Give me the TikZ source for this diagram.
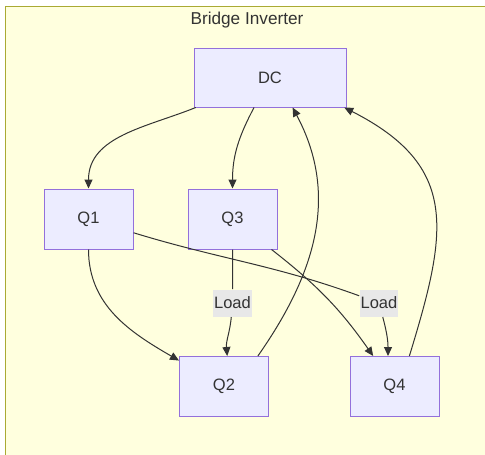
\documentclass[tikz,border=0pt]{standalone}
\usepackage{fontspec}
\setmainfont{Liberation Sans}
\usetikzlibrary{positioning,arrows.meta}
\definecolor{nodefill}{HTML}{ECECFF}
\definecolor{nodeline}{HTML}{9370DB}
\definecolor{clusterfill}{HTML}{FFFFDE}
\definecolor{clusterline}{HTML}{AAAA33}
\definecolor{edgegray}{HTML}{333333}
\definecolor{labelgray}{HTML}{E8E8E8}

\begin{document}
\begin{tikzpicture}[->,>={Triangle[length=9pt,width=8pt]},line width=1pt,color=edgegray,on grid,
  main node/.style={rectangle,draw=nodeline,fill=nodefill,minimum width=89pt,minimum height=60pt,font=\fontsize{16.5}{20}\selectfont},
  load node/.style={fill=labelgray,inner xsep=1pt,minimum height=27pt,font=\fontsize{16.5}{20}\selectfont}]
    \useasboundingbox (0,0) rectangle (485pt,-455pt);
    \draw[-,draw=clusterline,fill=clusterfill] (5.5pt,-6.5pt) rectangle (500pt,-470pt);
    \node[font=\fontsize{17.2}{20}\selectfont] (title) at (247pt,-20pt) {Bridge Inverter};

    \node[main node,minimum width=152pt,minimum height=59pt] (DC) at (270pt,-77.5pt) {DC};
    \node[main node] (Q1) [below left=141.5pt and 181.5pt of DC] {Q1};
    \node[main node] (Q3) [right=144pt of Q1] {Q3};
    \node[main node] (Q2) [below left=167.5pt and 8.5pt of Q3] {Q2};
    \node[main node] (Q4) [right=170.5pt of Q2] {Q4};
    \node[load node] (L1) [below=84pt of Q3] {Load};
    \node[load node] (L2) [above left=83.5pt and 15.5pt of Q4] {Load};

    \path
        (DC) edge[out=-158,in=90] (Q1)
        (DC) edge[out=-118,in=90] (Q3)
        (Q1) edge[out=-90,in=150] (Q2)
        (Q3) edge[out=-38,in=125] (Q4)
        (Q2.42) edge[out=55,in=-62,out distance=100pt,in distance=100pt] (DC.-53)
        (Q4.64) edge[out=73,in=-27,out distance=130pt,in distance=130pt] (DC.-22)
        ;
    \draw (Q3) -- (L1) to[out=-95,in=95] (Q2.84);
    \draw (Q1) to[out=-17,in=160] (L2) to[out=-75,in=90] (Q4.102);
\end{tikzpicture}
\end{document}
